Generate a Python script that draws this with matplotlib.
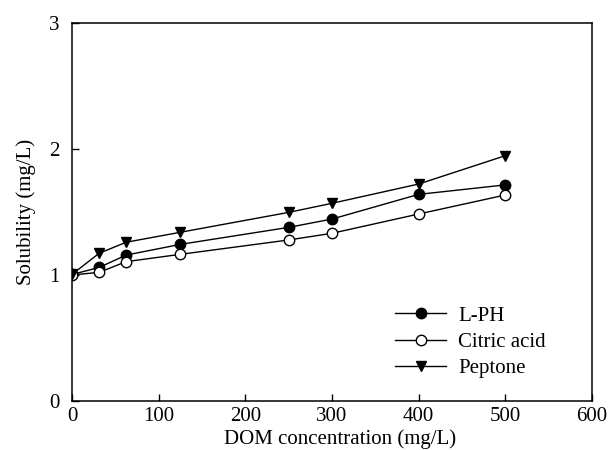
import matplotlib
matplotlib.use("Agg")
import matplotlib.pyplot as plt

plt.rcParams['font.family'] = ['Liberation Serif', 'DejaVu Serif']
plt.rcParams['mathtext.fontset'] = 'stix'

x = [0, 31.25, 62.5, 125, 250, 300, 400, 500]
lph = [1.004, 1.06, 1.158, 1.243, 1.378, 1.444, 1.64, 1.715]
citric = [1.0, 1.021, 1.106, 1.164, 1.278, 1.331, 1.484, 1.635]
peptone = [1.005, 1.172, 1.26, 1.339, 1.497, 1.569, 1.722, 1.947]
labels = ['L-PH', 'Citric acid', 'Peptone']

fig = plt.figure(figsize=(6.09, 4.5), dpi=100)
ax = fig.add_axes([72/609, 1-401/450, 520/609, 378/450])

kw = dict(color='black', mec='black', ms=7.5, lw=1.0, mew=1.0)
ax.plot(x, lph, '-o', mfc='black', label=labels[0], **kw)
ax.plot(x, citric, '-o', mfc='white', label=labels[1], **kw)
ax.plot(x, peptone, '-v', mfc='black', label=labels[2], **kw)

ax.set_xlim(0, 600)
ax.set_ylim(0, 3)
ax.set_xticks([0, 100, 200, 300, 400, 500, 600])
ax.set_yticks([0, 1, 2, 3])
ax.tick_params(direction='in', labelsize=15, length=5, width=1)
ax.tick_params(axis='x', pad=4)
ax.tick_params(axis='y', pad=9)
for s in ax.spines.values():
    s.set_linewidth(1.1)
ax.set_xlabel('DOM concentration (mg/L)', fontsize=15, labelpad=3)
ax.xaxis.set_label_coords(0.515, -0.075)
ax.set_ylabel('Solubility (mg/L)', fontsize=15, labelpad=9)

leg = ax.legend(loc='upper left', bbox_to_anchor=(395/609, 1-306/450),
                bbox_transform=fig.transFigure, frameon=False, fontsize=15,
                borderpad=0, borderaxespad=0,
                handlelength=2.45, handletextpad=0.58, labelspacing=0.32)

fig.savefig('out.png', dpi=100)
